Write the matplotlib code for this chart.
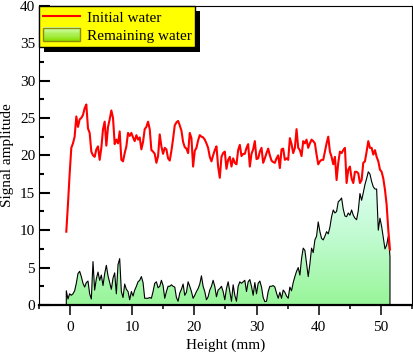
import numpy as np
import matplotlib
matplotlib.use("Agg")
import matplotlib.pyplot as plt
from matplotlib.colors import LinearSegmentedColormap
from matplotlib.legend_handler import HandlerBase
from matplotlib.lines import Line2D
from matplotlib.patches import Patch, Rectangle
from matplotlib.ticker import MultipleLocator

plt.rcParams['font.family'] = ['Liberation Serif', 'DejaVu Serif']
plt.rcParams['font.size'] = 11

# signal read along the height of the sample (mm), same sampling for both curves
initial_water = [
    9.8, 13.5, 17.5, 21.0, 21.6, 22.5, 25.2, 23.8, 24.8, 25.0,
    25.4, 26.3, 26.8, 23.6, 23.0, 20.5, 20.0, 19.8, 20.8, 21.2,
    19.4, 21.0, 23.5, 24.5, 21.3, 23.8, 24.8, 26.0, 25.0, 21.5,
    22.1, 21.6, 23.2, 19.4, 19.2, 20.3, 21.2, 23.0, 22.6, 23.0,
    22.4, 21.9, 22.7, 22.1, 22.4, 20.8, 21.8, 23.5, 23.8, 24.5,
    23.5, 20.7, 20.5, 20.2, 19.0, 19.9, 22.8, 21.2, 20.2, 21.0,
    20.8, 19.6, 19.3, 20.6, 22.2, 24.0, 24.4, 24.6, 24.0, 23.3,
    21.8, 21.1, 20.9, 20.3, 23.0, 22.3, 18.5, 20.6, 21.0, 22.0,
    22.7, 22.5, 22.4, 22.1, 21.6, 21.0, 19.8, 19.2, 20.0, 20.7,
    21.2, 18.5, 17.0, 19.8, 20.3, 20.5, 18.2, 19.4, 19.8, 18.5,
    19.6, 19.0, 18.8, 20.7, 21.4,
    19.9, 20.2, 20.2, 21.0, 21.5, 18.5, 20.2, 20.8, 21.9, 19.5,
    19.6, 20.5, 21.0, 19.0, 19.6, 20.3, 20.9, 20.0, 19.3, 19.1,
    19.0, 19.6, 20.0, 18.3, 20.8, 20.9, 19.4, 19.6, 19.4, 22.3,
    21.5, 20.3, 21.0, 23.5, 21.0, 20.7, 19.9, 21.9, 21.6, 22.1,
    21.0, 21.6, 22.1, 21.9, 21.6, 20.1, 18.8, 19.2, 19.4, 19.4,
    20.5, 21.6, 22.5, 20.5, 19.8, 18.8, 19.8, 16.7, 19.0, 20.5,
    20.3, 20.7, 21.0, 16.3, 18.1, 18.5, 16.9, 16.3, 17.8, 17.8,
    17.6, 16.3, 16.7, 19.0, 19.2, 20.5, 21.9, 21.0, 21.0, 20.1,
    20.7, 19.8, 19.2, 18.1, 17.8, 16.9, 15.4, 13.4, 10.0, 7.4,
]

remaining_water = [
    1.9, 0.8, 1.5, 1.3, 1.5, 1.9, 2.9, 4.2, 4.5, 3.8,
    2.9, 2.4, 3.0, 3.2, 1.5, 0.8, 5.8, 2.0, 3.5, 4.4,
    3.3, 4.0, 2.6, 4.2, 5.3, 3.9, 3.0, 2.1, 3.6, 4.3,
    1.5, 5.4, 6.2, 1.8, 1.0, 2.8, 2.1, 1.8, 0.7, 1.8,
    1.2, 2.0, 2.5, 3.1, 3.3, 3.8, 3.0, 0.9, 0.9, 0.9,
    1.0, 0.9, 1.8, 2.9, 3.1, 2.3, 2.5, 3.3, 2.6, 0.9,
    1.8, 2.5, 2.5, 2.7, 2.5, 2.4, 1.0, 0.5, 1.6, 2.1,
    2.8, 1.3, 1.7, 3.1, 2.5, 1.8, 0.9, 1.3, 1.8, 2.2,
    2.8, 3.9, 2.5, 1.8, 0.7, 1.1, 2.0, 2.5, 3.3, 2.5,
    1.1, 2.0, 2.2, 2.5, 1.8, 0.7, 2.2, 3.1, 1.8, 0.5,
    2.7, 1.3, 0.5, 2.5, 3.1,
    2.9, 3.1, 3.3, 1.8, 3.1, 3.4, 2.5, 1.3, 3.0, 1.5,
    2.9, 3.2, 2.4, 1.0, 0.45, 0.5, 1.8, 2.5, 2.5, 2.6,
    2.4, 1.6, 0.9, 1.7, 0.9, 2.0, 1.7, 1.2, 0.9, 2.4,
    1.9, 3.0, 3.8, 4.5, 5.0, 4.0, 6.2, 7.6, 7.3, 5.6,
    3.8, 5.5, 7.6, 7.0, 8.7, 9.2, 11.1, 9.8, 8.9, 8.7,
    9.2, 9.8, 9.5, 10.4, 11.8, 12.7, 12.3, 12.5, 13.8, 14.0,
    14.3, 12.8, 11.9, 11.8, 12.3, 12.0, 12.7, 12.0, 11.6, 11.4,
    12.6, 14.9, 14.0, 15.0, 16.1, 16.9, 17.8, 17.5, 16.5, 15.8,
    15.5, 15.5, 10.0, 11.6, 10.5, 9.0, 7.5, 8.0, 9.2, 6.5,
]

heights = np.linspace(-0.65, 51.5, len(initial_water))

fill_cmap = LinearSegmentedColormap.from_list('water', ['#98f598', '#c0fbd0', '#e4fff8'])
legend_cmap = LinearSegmentedColormap.from_list('leg', ['#88e000', '#d0ffa8'])


class GradientHandler(HandlerBase):
    # legend swatch drawn as stacked bands to fake the gradient
    def create_artists(self, legend, orig_handle, xdescent, ydescent,
                       width, height, fontsize, trans):
        arts = []
        n = 12
        for k in range(n):
            r = Rectangle((-xdescent, -ydescent + height * k / n), width, height / n + 0.2,
                          facecolor=legend_cmap(k / (n - 1)), edgecolor='none',
                          transform=trans)
            arts.append(r)
        arts.append(Rectangle((-xdescent, -ydescent), width, height, facecolor='none',
                              edgecolor='#8c8c00', lw=1, transform=trans))
        return arts


fig = plt.figure(figsize=(4.14, 3.52), dpi=100)
ax = fig.add_axes([39.3 / 414, 47 / 352, 372.4 / 414, 299.3 / 352])

# remaining water: gradient fill clipped to the area under the curve
poly = ax.fill_between(heights, remaining_water, 0, facecolor='none', edgecolor='none')
img = ax.imshow(np.linspace(0, 1, 256).reshape(-1, 1), cmap=fill_cmap, origin='lower',
                extent=[heights[0], heights[-1], 0, max(remaining_water)],
                aspect='auto', zorder=1)
img.set_clip_path(poly.get_paths()[0], transform=ax.transData)
ax.plot(np.r_[heights[0], heights, heights[-1]], np.r_[0, remaining_water, 0],
        color='black', lw=0.8, zorder=2)

ax.plot(heights, initial_water, color='#ff0000', lw=1.5, zorder=3)

ax.set_xlim(-5, 55)
ax.set_ylim(0, 40)
ax.xaxis.set_major_locator(MultipleLocator(10))
ax.xaxis.set_minor_locator(MultipleLocator(5))
ax.yaxis.set_major_locator(MultipleLocator(5))
ax.yaxis.set_minor_locator(MultipleLocator(2.5))
ax.tick_params(axis='y', which='major', direction='in', length=8, width=1.5, pad=3)
ax.tick_params(axis='y', which='minor', direction='in', length=3.6, width=1.5)
ax.tick_params(axis='x', which='major', direction='out', length=7.5, width=1.1, pad=4)
ax.tick_params(axis='x', which='minor', direction='out', length=3, width=1.1)

for side in ['left', 'right', 'top']:
    ax.spines[side].set_linewidth(0.8)
ax.spines['bottom'].set_linewidth(1.6)

ax.set_xlabel('Height (mm)', labelpad=3)
ax.set_ylabel('Signal amplitude')

red_proxy = Line2D([], [], color='#ff0000', lw=1.5)
green_proxy = Patch()
leg = ax.legend([red_proxy, green_proxy], ['Initial water', 'Remaining water'],
                handler_map={green_proxy: GradientHandler()},
                loc='upper left', bbox_to_anchor=(0, 1), borderaxespad=0,
                fancybox=False, facecolor='#ffff00', edgecolor='black', framealpha=1,
                handlelength=2.4, handleheight=1.0, handletextpad=0.45,
                borderpad=0.25, labelspacing=0.2)
leg.get_frame().set_linewidth(1)

# solid black drop shadow, offset a few pixels down-right
fig.canvas.draw()
bb = leg.get_window_extent()
shadow = Rectangle((bb.x0 + 5, bb.y0 - 5), bb.width, bb.height, transform=None,
                   facecolor='black', edgecolor='none', zorder=leg.get_zorder() - 0.1)
ax.add_artist(shadow)
shadow.set_clip_on(False)

fig.savefig('out.png', dpi=100)
